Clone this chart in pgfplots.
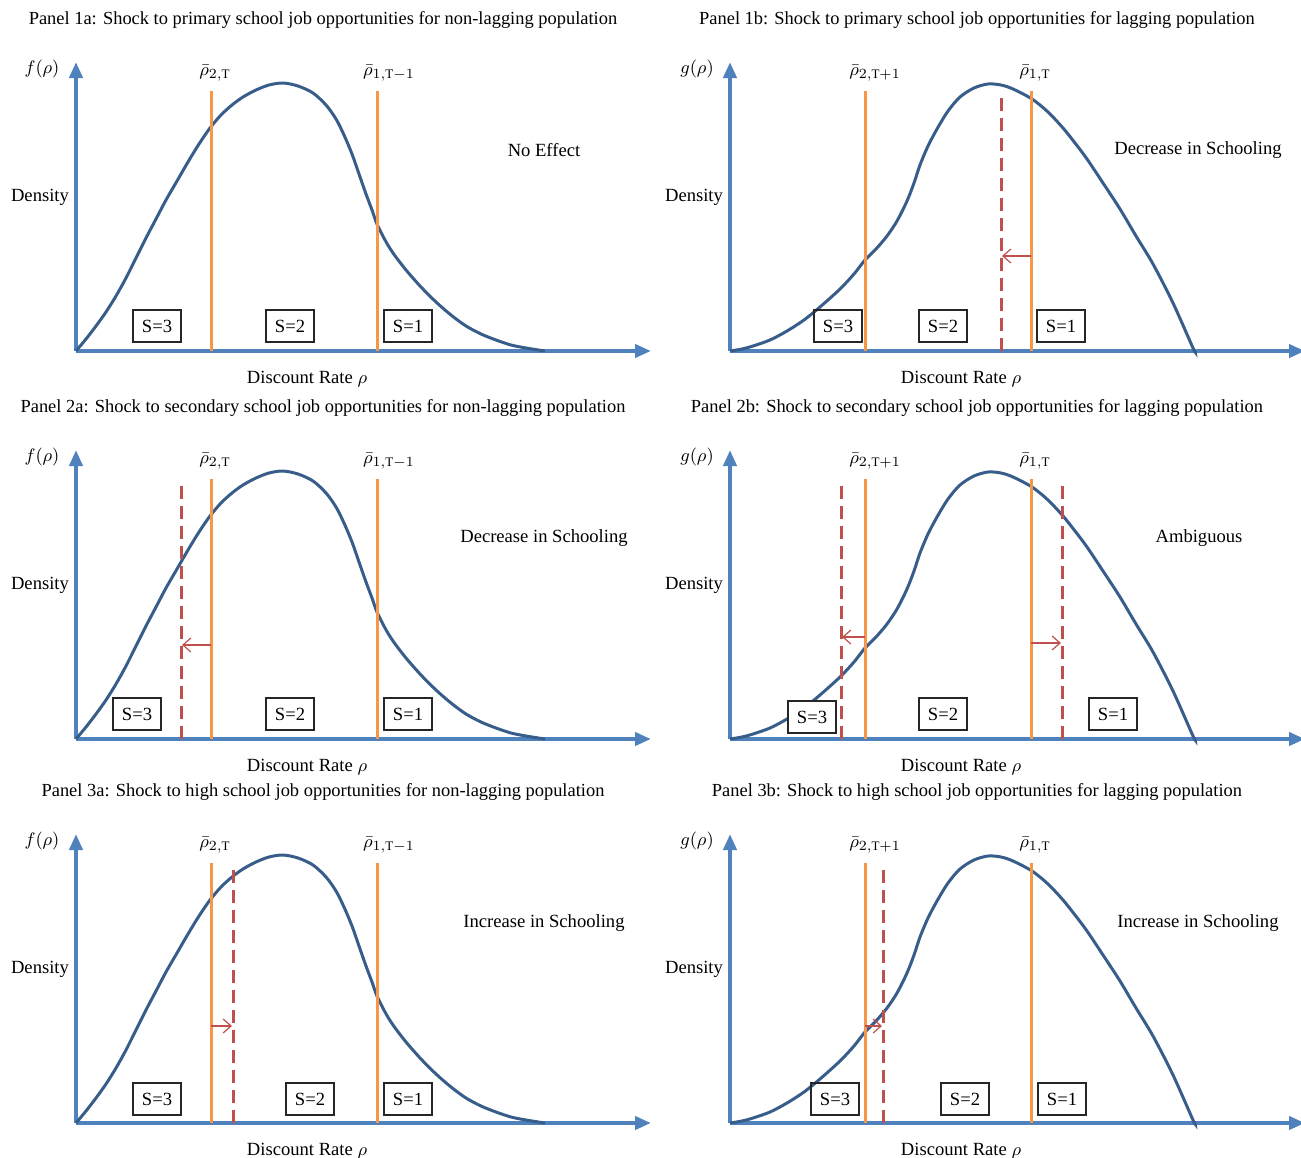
\documentclass[border=0pt]{standalone}
\usepackage{fontspec}
\setmainfont{Liberation Serif}
\usepackage{pgfplots}
\usepackage{pgfplotstable}
\pgfplotsset{compat=1.18}
\usetikzlibrary{arrows.meta}

\definecolor{axisblue}{HTML}{4F81BD}
\definecolor{curveblue}{HTML}{385D8A}
\definecolor{cutorange}{HTML}{F79646}
\definecolor{shiftred}{HTML}{C0504D}

% density of discount rates, non-lagging population
\pgfplotstableread{
x y
0 0
10 12
20 25
30 39
40 55
50 73
60 93
70 113
80 132
90 151
101 170
112 189
123 207
134 223
145 236
156 246
167 254
180 261
193 266
207 268
222 265
237 258
250 246
260 232
268 216
276 197
283 177
290 157
296 141
301 127
309 111
317 98
330 81
345 64
360 49
375 36
390 25
405 17
420 11
435 6
450 3
469 0
}\fcurve

% density of discount rates, lagging population
\pgfplotstableread{
x y
0 0
12 2
23 5
40 11
57 20
74 31
90 44
110 62
124 77
135 91
146 102
157 115
167 130
177 150
184 168
190 186
198 205
207 222
218 240
230 254
244 263
258 267
271 266
283 262
302 252
318 239
333 223
345 208
357 192
373 168
390 142
406 115
423 87
443 48
463 3
465 0
}\gcurve

\pgfplotsset{
  panel/.style={
    x=0.5pt, y=0.5pt,
    xmin=0, xmax=575, ymin=0, ymax=289,
    axis lines=left,
    axis line style={draw=axisblue, line width=2pt, -{Triangle[length=8pt,width=6.5pt]}},
    every outer x axis line/.append style={-{Triangle[length=8pt,width=6.5pt]}},
    every outer y axis line/.append style={-{Triangle[length=8pt,width=6.5pt]}},
    xtick=\empty, ytick=\empty,
    clip=false, anchor=origin,
  },
  density/.style={draw=curveblue, line width=1.5pt, smooth, tension=0.5, no markers},
  cutoff/.style={draw=cutorange, line width=1.5pt, no markers},
  shifted/.style={draw=shiftred, line width=1.5pt, dash pattern=on 6.5pt off 3.5pt, no markers},
  shiftarrow/.style={draw=shiftred, line width=0.6pt, -{Straight Barb[length=4pt,width=7pt]}, no markers},
}
\tikzset{
  sbox/.style={draw=black!85, line width=0.6pt, minimum width=24pt, minimum height=16pt, inner sep=0pt},
  ptitle/.style={font=\fontsize{9.22}{11}\selectfont},
}

\begin{document}
\begin{tikzpicture}[x=0.5pt, y=0.5pt, font=\fontsize{9.3}{11}\selectfont]
\useasboundingbox (0,0) rectangle (1301,-1157);

% ---------- Panel 1a ----------
\begin{axis}[panel, at={(76,-351)}]
  \addplot[density] table {\fcurve};
  \addplot[cutoff] coordinates {(135,0) (135,260)};
  \addplot[cutoff] coordinates {(301,0) (301,260)};
  \node[ptitle] at (axis cs:247,331) {Panel 1a: Shock to primary school job opportunities for non-lagging population};
  \node at (axis cs:-34,282) {$f(\rho)$};
  \node at (axis cs:-36,154) {Density};
  \node at (axis cs:231,-28) {Discount Rate $\rho$};
  \node at (axis cs:139,278) {$\bar{\rho}_{2,\mathrm{T}}$};
  \node at (axis cs:313,278) {$\bar{\rho}_{1,\mathrm{T}-1}$};
  \node at (axis cs:468,201) {No Effect};
  \node[sbox] at (axis cs:81,25) {S=3};
  \node[sbox] at (axis cs:214,25) {S=2};
  \node[sbox] at (axis cs:332,25) {S=1};
\end{axis}

% ---------- Panel 1b ----------
\begin{axis}[panel, at={(730,-351)}]
  \addplot[density] table {\gcurve};
  \addplot[cutoff] coordinates {(135,0) (135,260)};
  \addplot[cutoff] coordinates {(301,0) (301,260)};
  \addplot[shifted] coordinates {(271,0) (271,260)};
  \addplot[shiftarrow] coordinates {(301,95) (272,95)};
  \node[ptitle] at (axis cs:247,331) {Panel 1b: Shock to primary school job opportunities for lagging population};
  \node at (axis cs:-33,282) {$g(\rho)$};
  \node at (axis cs:-36,154) {Density};
  \node at (axis cs:231,-28) {Discount Rate $\rho$};
  \node at (axis cs:145,278) {$\bar{\rho}_{2,\mathrm{T}+1}$};
  \node at (axis cs:305,278) {$\bar{\rho}_{1,\mathrm{T}}$};
  \node at (axis cs:468,201) {Decrease in Schooling};
  \node[sbox] at (axis cs:108,25) {S=3};
  \node[sbox] at (axis cs:213,25) {S=2};
  \node[sbox] at (axis cs:331,25) {S=1};
\end{axis}

% ---------- Panel 2a ----------
\begin{axis}[panel, at={(76,-739)}]
  \addplot[density] table {\fcurve};
  \addplot[cutoff] coordinates {(135,0) (135,260)};
  \addplot[cutoff] coordinates {(301,0) (301,260)};
  \addplot[shifted] coordinates {(105,0) (105,260)};
  \addplot[shiftarrow] coordinates {(135,94) (106,94)};
  \node[ptitle] at (axis cs:247,331) {Panel 2a: Shock to secondary school job opportunities for non-lagging population};
  \node at (axis cs:-34,282) {$f(\rho)$};
  \node at (axis cs:-36,154) {Density};
  \node at (axis cs:231,-28) {Discount Rate $\rho$};
  \node at (axis cs:139,278) {$\bar{\rho}_{2,\mathrm{T}}$};
  \node at (axis cs:313,278) {$\bar{\rho}_{1,\mathrm{T}-1}$};
  \node at (axis cs:468,201) {Decrease in Schooling};
  \node[sbox] at (axis cs:61,25) {S=3};
  \node[sbox] at (axis cs:214,25) {S=2};
  \node[sbox] at (axis cs:332,25) {S=1};
\end{axis}

% ---------- Panel 2b ----------
\begin{axis}[panel, at={(730,-739)}]
  \addplot[density] table {\gcurve};
  \addplot[cutoff] coordinates {(135,0) (135,260)};
  \addplot[cutoff] coordinates {(301,0) (301,260)};
  \addplot[shifted] coordinates {(111,0) (111,260)};
  \addplot[shifted] coordinates {(332,0) (332,260)};
  \addplot[shiftarrow] coordinates {(135,102) (112,102)};
  \addplot[shiftarrow] coordinates {(301,96) (331,96)};
  \node[ptitle] at (axis cs:247,331) {Panel 2b: Shock to secondary school job opportunities for lagging population};
  \node at (axis cs:-33,282) {$g(\rho)$};
  \node at (axis cs:-36,154) {Density};
  \node at (axis cs:231,-28) {Discount Rate $\rho$};
  \node at (axis cs:145,278) {$\bar{\rho}_{2,\mathrm{T}+1}$};
  \node at (axis cs:305,278) {$\bar{\rho}_{1,\mathrm{T}}$};
  \node at (axis cs:469,201) {Ambiguous};
  \node[sbox, fill=white] at (axis cs:82,22) {S=3};
  \node[sbox] at (axis cs:213,25) {S=2};
  \node[sbox] at (axis cs:383,25) {S=1};
\end{axis}

% ---------- Panel 3a ----------
\begin{axis}[panel, at={(76,-1123)}]
  \addplot[density] table {\fcurve};
  \addplot[cutoff] coordinates {(135,0) (135,260)};
  \addplot[cutoff] coordinates {(301,0) (301,260)};
  \addplot[shifted] coordinates {(157,0) (157,260)};
  \addplot[shiftarrow] coordinates {(135,97) (156,97)};
  \node[ptitle] at (axis cs:247,331) {Panel 3a: Shock to high school job opportunities for non-lagging population};
  \node at (axis cs:-34,282) {$f(\rho)$};
  \node at (axis cs:-36,154) {Density};
  \node at (axis cs:231,-28) {Discount Rate $\rho$};
  \node at (axis cs:139,278) {$\bar{\rho}_{2,\mathrm{T}}$};
  \node at (axis cs:313,278) {$\bar{\rho}_{1,\mathrm{T}-1}$};
  \node at (axis cs:468,200) {Increase in Schooling};
  \node[sbox] at (axis cs:81,24) {S=3};
  \node[sbox] at (axis cs:234,24) {S=2};
  \node[sbox] at (axis cs:332,24) {S=1};
\end{axis}

% ---------- Panel 3b ----------
\begin{axis}[panel, at={(730,-1123)}]
  \addplot[density] table {\gcurve};
  \addplot[cutoff] coordinates {(135,0) (135,260)};
  \addplot[cutoff] coordinates {(301,0) (301,260)};
  \addplot[shifted] coordinates {(153,0) (153,260)};
  \addplot[shiftarrow] coordinates {(135,97) (152,97)};
  \node[ptitle] at (axis cs:247,331) {Panel 3b: Shock to high school job opportunities for lagging population};
  \node at (axis cs:-33,282) {$g(\rho)$};
  \node at (axis cs:-36,154) {Density};
  \node at (axis cs:231,-28) {Discount Rate $\rho$};
  \node at (axis cs:145,278) {$\bar{\rho}_{2,\mathrm{T}+1}$};
  \node at (axis cs:305,278) {$\bar{\rho}_{1,\mathrm{T}}$};
  \node at (axis cs:468,200) {Increase in Schooling};
  \node[sbox] at (axis cs:105,24) {S=3};
  \node[sbox] at (axis cs:235,24) {S=2};
  \node[sbox] at (axis cs:332,24) {S=1};
\end{axis}
\end{tikzpicture}
\end{document}
